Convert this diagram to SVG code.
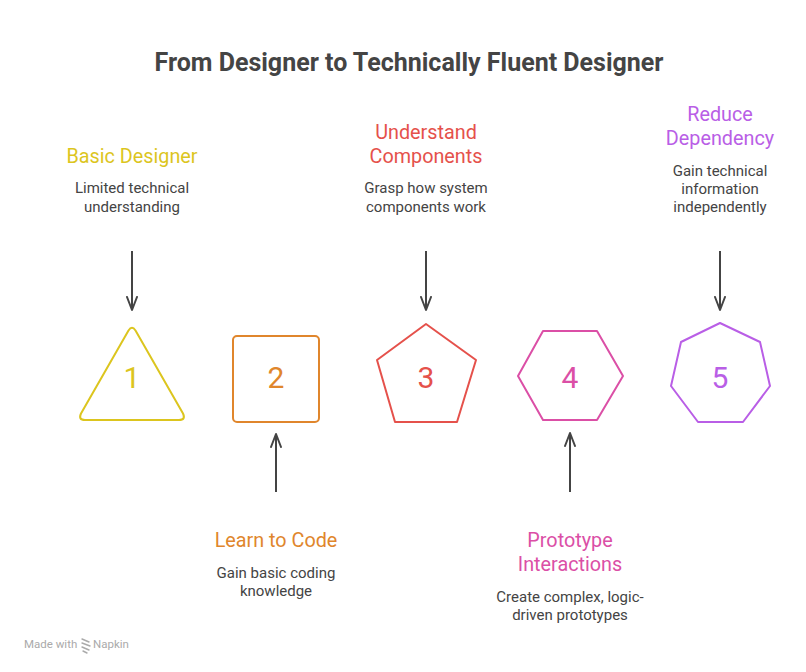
<svg xmlns="http://www.w3.org/2000/svg" width="806" height="672" viewBox="0 0 806 672">
<defs>
<style>
.title{font-family:Roboto,"Liberation Sans",sans-serif;font-weight:700;font-size:25px;fill:#444;text-anchor:middle}
.head{font-family:Roboto,"Liberation Sans",sans-serif;font-size:19.8px;text-anchor:middle}
.desc{font-family:Roboto,"Liberation Sans",sans-serif;font-size:15px;fill:#444;text-anchor:middle}
.num{font-family:Roboto,"Liberation Sans",sans-serif;font-size:30px;text-anchor:middle}
.shape{fill:none;stroke-width:2;stroke-linejoin:round}
.conn{stroke:#444;stroke-width:2;fill:none}
.wm{font-family:Roboto,"Liberation Sans",sans-serif;font-size:11.5px;fill:#aaa}
</style>
<marker id="ah" viewBox="0 0 16 12" refX="14" refY="6" markerWidth="16" markerHeight="12" markerUnits="userSpaceOnUse" orient="auto">
<path d="M1,1 L14,6 L1,11" fill="none" stroke="#444" stroke-width="2" stroke-linecap="round" stroke-linejoin="round"/>
</marker>
</defs>
<rect width="806" height="672" fill="#fff"/>
<text class="title" x="409" y="71">From Designer to Technically Fluent Designer</text>

<g id="connectors">
<line class="conn" x1="132" y1="251" x2="132" y2="310" marker-end="url(#ah)"/>
<line class="conn" x1="276" y1="492" x2="276" y2="434" marker-end="url(#ah)"/>
<line class="conn" x1="426" y1="251" x2="426" y2="310" marker-end="url(#ah)"/>
<line class="conn" x1="570" y1="492" x2="570" y2="433" marker-end="url(#ah)"/>
<line class="conn" x1="720" y1="251" x2="720" y2="310" marker-end="url(#ah)"/>
</g>

<g id="node1">
<path class="shape" stroke="#dcc51e" d="M128.5,330.5 Q132,325 135.5,330.5 L183,413.5 Q186,420 179,420 L85,420 Q78,420 81,413.5 Z"/>
<text class="num" fill="#dcc51e" x="132" y="388">1</text>
<text class="head" fill="#dcc51e" x="132" y="163">Basic Designer</text>
<text class="desc" x="132" y="193">Limited technical</text>
<text class="desc" x="132" y="212">understanding</text>
</g>

<g id="node2">
<rect class="shape" stroke="#e0862c" x="233" y="336" width="86" height="86" rx="4"/>
<text class="num" fill="#e0862c" x="276" y="388">2</text>
<text class="head" fill="#e0862c" x="276" y="547">Learn to Code</text>
<text class="desc" x="276" y="578">Gain basic coding</text>
<text class="desc" x="276" y="596">knowledge</text>
</g>

<g id="node3">
<polygon class="shape" stroke="#e5514b" points="426,324 476,360 457,422 395,422 377,360"/>
<text class="num" fill="#e5514b" x="426" y="388">3</text>
<text class="head" fill="#e5514b" x="426" y="139">Understand</text>
<text class="head" fill="#e5514b" x="426" y="163">Components</text>
<text class="desc" x="426" y="193">Grasp how system</text>
<text class="desc" x="426" y="212">components work</text>
</g>

<g id="node4">
<polygon class="shape" stroke="#db4fa6" points="543,331 597,331 623,376 597,420 543,420 518,376"/>
<text class="num" fill="#db4fa6" x="570" y="388">4</text>
<text class="head" fill="#db4fa6" x="570" y="547">Prototype</text>
<text class="head" fill="#db4fa6" x="570" y="571">Interactions</text>
<text class="desc" x="570" y="602">Create complex, logic-</text>
<text class="desc" x="570" y="620">driven prototypes</text>
</g>

<g id="node5">
<polygon class="shape" stroke="#b95ee6" points="720,323 760,342 770,386 743,422 698,422 671,386 681,342"/>
<text class="num" fill="#b95ee6" x="720" y="388">5</text>
<text class="head" fill="#b95ee6" x="720" y="121">Reduce</text>
<text class="head" fill="#b95ee6" x="720" y="145">Dependency</text>
<text class="desc" x="720" y="176">Gain technical</text>
<text class="desc" x="720" y="194">information</text>
<text class="desc" x="720" y="212">independently</text>
</g>

<g id="watermark">
<text class="wm" x="24" y="648">Made with</text>
<path d="M82,639 L89,642 M82,643 L90,646 M82,647 L89,650 M83,651 L87,653" stroke="#aaa" stroke-width="1.4" fill="none" stroke-linecap="round"/>
<text class="wm" x="93" y="648">Napkin</text>
</g>
</svg>
